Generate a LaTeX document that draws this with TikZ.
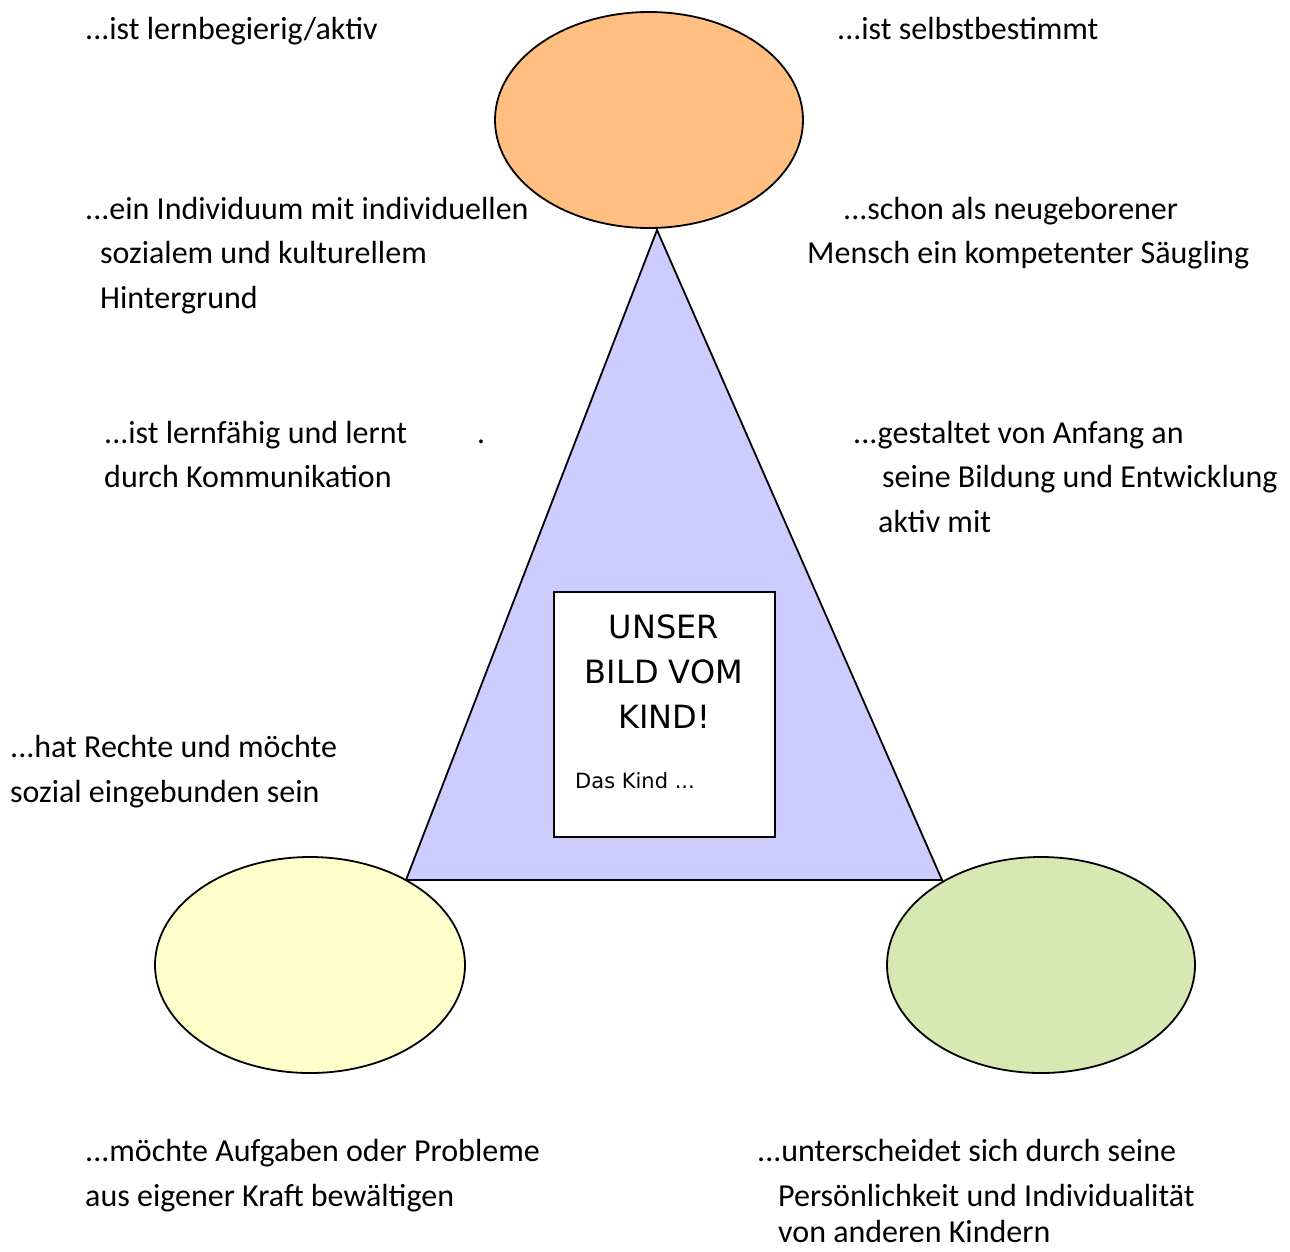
\documentclass[tikz,border=0pt]{standalone}
\usepackage{fontspec}
\setmainfont{Carlito}
\newfontfamily\boxfont{DejaVu Sans}
\usetikzlibrary{shapes.geometric}
\definecolor{cOrange}{HTML}{FFBF80}
\definecolor{cLav}{HTML}{CCCCFF}
\definecolor{cYel}{HTML}{FFFFCC}
\definecolor{cGreen}{HTML}{D7E9B3}
\tikzset{
  lbl/.style={anchor=base west, inner sep=0pt, font=\fontsize{32}{38}\selectfont},
  blob/.style={draw=black, line width=1.8pt},
  ttl/.style={inner sep=0pt, font=\boxfont\fontsize{32}{38}\selectfont},
}
\begin{document}
\begin{tikzpicture}[x=1pt,y=-1pt]
\useasboundingbox (0,0) rectangle (1290,1251);
% triangle
\coordinate (apex) at (657,230);
\coordinate (bl) at (406,880);
\coordinate (br) at (942,880);
\filldraw[blob, fill=cLav, line join=miter] (apex) -- (bl) -- (br) -- cycle;
% ellipses
\filldraw[blob, fill=cOrange] (649,120) ellipse [x radius=154, y radius=108];
\filldraw[blob, fill=cYel] (310,965) ellipse [x radius=155, y radius=108];
\filldraw[blob, fill=cGreen] (1041,965) ellipse [x radius=154, y radius=108];
% central box
\filldraw[draw=black, line width=1.6pt, fill=white] (554,592) rectangle (775,837);
\node[ttl] (t1) at (664,627) {UNSER};
\node[ttl] (t2) at (664,672) {BILD VOM};
\node[ttl] (t3) at (664,717) {KIND!};
\node[ttl, anchor=mid west, font=\boxfont\fontsize{21}{25}\selectfont] (t4) at (575,786) {Das Kind ...};
% labels
\node[lbl] (a1) at (85,39) {...ist lernbegierig/aktiv};
\node[lbl] (b1) at (837,39) {...ist selbstbestimmt};
\node[lbl] (c1) at (85,219) {...ein Individuum mit individuellen};
\node[lbl] (c2) at (100,263) {sozialem und kulturellem};
\node[lbl] (c3) at (100,308) {Hintergrund};
\node[lbl] (d1) at (843,219) {...schon als neugeborener};
\node[lbl] (d2) at (807,263) {Mensch ein kompetenter Säugling};
\node[lbl] (e1) at (104,443) {...ist lernfähig und lernt};
\node[lbl] (e0) at (477,443) {.};
\node[lbl] (e2) at (104,487) {durch Kommunikation};
\node[lbl] (f1) at (853,443) {...gestaltet von Anfang an};
\node[lbl] (f2) at (882,487) {seine Bildung und Entwicklung};
\node[lbl] (f3) at (878,532) {aktiv mit};
\node[lbl] (g1) at (10,757) {...hat Rechte und möchte};
\node[lbl] (g2) at (10,802) {sozial eingebunden sein};
\node[lbl] (h1) at (85,1161) {...möchte Aufgaben oder Probleme};
\node[lbl] (h2) at (85,1206) {aus eigener Kraft bewältigen};
\node[lbl] (i1) at (757,1161) {...unterscheidet sich durch seine};
\node[lbl] (i2) at (778,1206) {Persönlichkeit und Individualität};
\node[lbl] (i3) at (778,1242) {von anderen Kindern};
\end{tikzpicture}
\end{document}
